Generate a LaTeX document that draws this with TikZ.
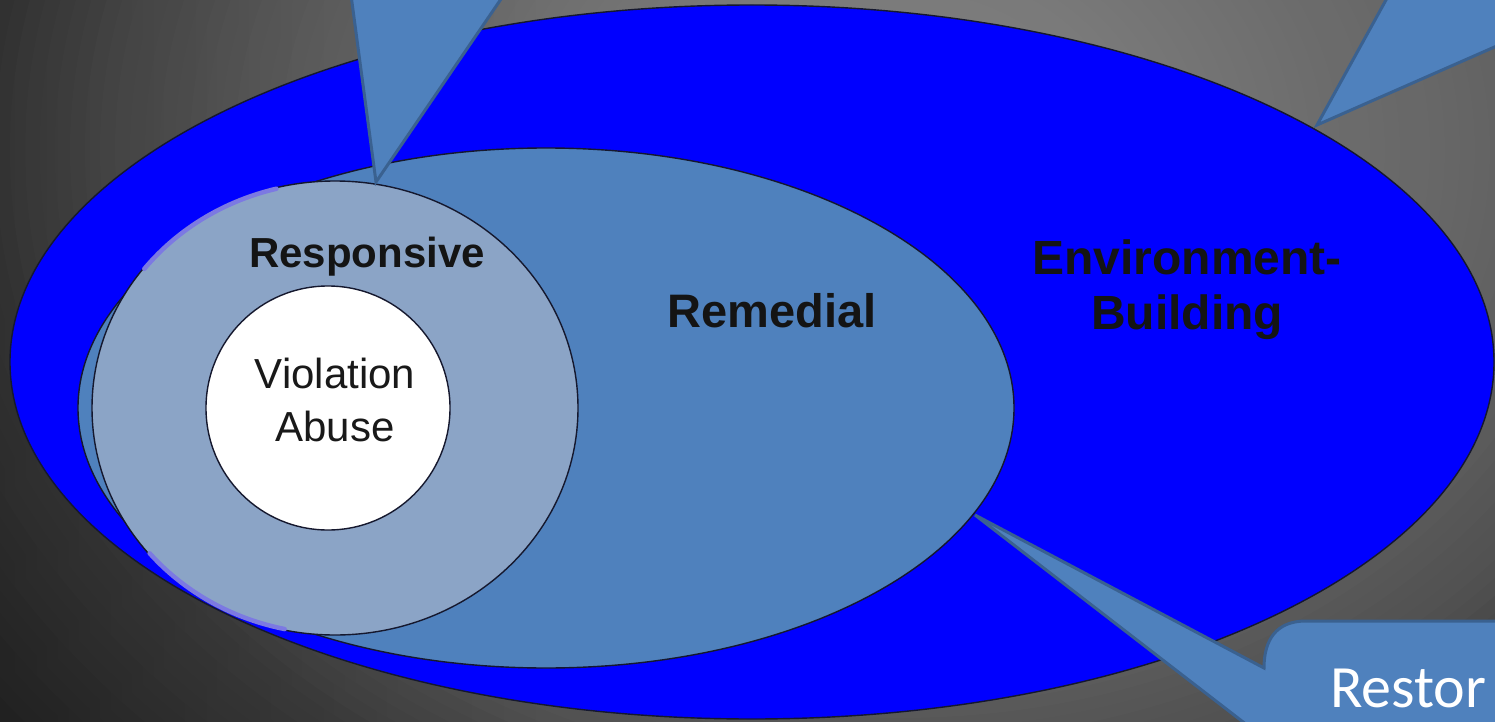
\documentclass[tikz,border=0pt]{standalone}
\usepackage{fontspec}
\setmainfont{Liberation Sans}
\newfontfamily\calfont{Carlito}
\usetikzlibrary{shapes.geometric,fadings}
\tikzfading[name=leftdark, left color=transparent!0, right color=transparent!100]
\definecolor{envblue}{HTML}{0000FF}
\definecolor{remblue}{HTML}{4F81BD}
\definecolor{respblue}{HTML}{8BA4C6}
\definecolor{callborder}{HTML}{3A6190}
\definecolor{rimline}{HTML}{15182E}
\definecolor{fringe}{HTML}{7C79E2}
\begin{document}
\begin{tikzpicture}[x=1pt,y=-1pt,
  ring/.style={ellipse, draw=rimline, line width=1.4pt, inner sep=0pt, outer sep=0pt},
  callout/.style={fill=remblue, draw=callborder, line width=3pt, line join=miter},
  boldlbl/.style={align=center, text=black!92, inner sep=0pt},
  plainlbl/.style={align=center, text=black!90, inner sep=0pt},
  fringeline/.style={draw=fringe, line width=4.5pt, line cap=round}]
\useasboundingbox (0,0) rectangle (1495,722);
\clip (0,0) rectangle (1495,722);
% background: elliptical gradient built from concentric discs
\fill[black!84] (0,0) rectangle (1495,722);
\foreach \s in {125,123.5,...,1} {
  \pgfmathsetmacro\g{128 - 0.26*min(\s,23) - 0.667*max(0,min(\s,44)-23) - 0.5*max(0,min(\s,60)-44) - 1.0*max(0,min(\s,80)-60) - 1.5*max(0,min(\s,92)-80) - 0.87*max(0,min(\s,115)-92)}
  \pgfmathsetmacro\k{100 - \g/2.55}
  \fill[black!\k] (900,150) ellipse [x radius=\s*10pt, y radius=\s*8pt];
}
% darker left side
\fill[black, opacity=0.2, path fading=leftdark] (0,0) rectangle (540,722);
% nested regions
\node[ring, fill=envblue, minimum width=1484pt, minimum height=714pt] (env) at (752,362) {};
\node[ring, fill=remblue, minimum width=936pt, minimum height=520pt] (rem) at (546,408) {};
\node[ring, fill=respblue, minimum width=486pt, minimum height=454pt] (resp) at (335,408) {};
\path[fringeline] plot[domain=104:142, samples=30] ({335+242*cos(\x)}, {408-226*sin(\x)});
\path[fringeline] plot[domain=220:258, samples=30] ({335+242*cos(\x)}, {408-226*sin(\x)});
\node[ring, fill=white, minimum width=244pt, minimum height=244pt] (viol) at (328,408) {};
% labels
\node[boldlbl, anchor=base, font=\bfseries\fontsize{42}{50}\selectfont] (resplbl) at (367,267) {Responsive};
\node[boldlbl, anchor=base, font=\bfseries\fontsize{47}{55}\selectfont] (remlbl) at (772,327) {Remedial};
\node[boldlbl, font=\bfseries\fontsize{48}{55}\selectfont] (envlbl) at (1187,290) {Environment-\\Building};
\node[plainlbl, font=\fontsize{42}{53}\selectfont] (viollbl) at (335,400) {Violation\\Abuse};
% callouts
\coordinate (tipA) at (376,182);
\coordinate (tipB) at (1317,125);
\coordinate (tipC) at (975,515);
\draw[callout] (tipA) -- (349,-20) -- (514,-20) -- cycle;
\draw[callout] (tipB) -- (1397,-20) -- (1515,-20) -- (1515,38) -- cycle;
\draw[callout] (tipC) -- (1264,668) .. controls (1264,640) and (1276,621) .. (1306,621) -- (1515,621) -- (1515,742) -- (1269,742) -- cycle;
\node[anchor=base west, text=white, inner sep=0pt, font=\calfont\fontsize{60}{70}\selectfont] (restor) at (1330,707) {Restor};
\end{tikzpicture}
\end{document}
